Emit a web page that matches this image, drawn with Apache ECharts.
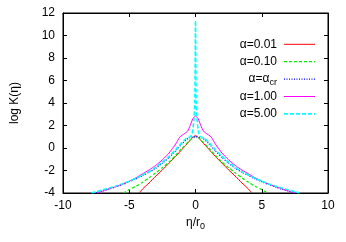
<!DOCTYPE html>
<html><head><meta charset="utf-8">
<script src="https://cdn.jsdelivr.net/npm/echarts@6/dist/echarts.min.js"></script>
<style>html,body{margin:0;padding:0;background:#fff}#c{width:346px;height:242px}</style>
</head><body><div id="c"></div>
<script>
// --- data ---
var xTicks = [-10, -5, 0, 5, 10];
var yTicks = [-4, -2, 0, 2, 4, 6, 8, 10, 12];

var etaRed = [-4.25,-4,-3.5,-3,-2.5,-2,-1.5,-1,-0.5,-0.25,0,0.25,0.5,1,1.5,2,2.5,3,3.5,4,4.25];
var valRed = [-4,-3.65,-3.1,-2.5,-1.95,-1.35,-0.75,-0.1,0.55,0.9,1.1,0.9,0.55,-0.1,-0.75,-1.35,-1.95,-2.5,-3.1,-3.65,-4];

var etaGreen = [-5.45,-5,-4.5,-4,-3.5,-3,-2.5,-2,-1.5,-1,-0.5,-0.25,0,0.25,0.5,1,1.5,2,2.5,3,3.5,4,4.5,5,5.45];
var valGreen = [-4,-3.7,-3.4,-3.05,-2.65,-2.2,-1.75,-1.25,-0.65,0.0,0.6,0.88,1.0,0.88,0.6,0.0,-0.65,-1.25,-1.75,-2.2,-2.65,-3.05,-3.4,-3.7,-4];

var etaBlue = [-7.5,-7,-6.5,-6,-5.5,-5,-4.5,-4,-3.5,-3,-2.5,-2,-1.5,-1,-0.5,0,0.5,1,1.5,2,2.5,3,3.5,4,4.5,5,5.5,6,6.5,7,7.5];
var valBlue = [-4,-3.82,-3.65,-3.45,-3.25,-3.0,-2.75,-2.45,-2.15,-1.8,-1.35,-0.85,-0.25,0.4,0.9,1.0,0.9,0.4,-0.25,-0.85,-1.35,-1.8,-2.15,-2.45,-2.75,-3.0,-3.25,-3.45,-3.65,-3.82,-4];

var etaMagenta = [-7.4,-7,-6.5,-6,-5.5,-5,-4.5,-4,-3.5,-3,-2.5,-2,-1.5,-1.2,-1,-0.8,-0.6,-0.4,-0.2,0,0.2,0.4,0.6,0.8,1,1.2,1.5,2,2.5,3,3.5,4,4.5,5,5.5,6,6.5,7,7.5];
var valMagenta = [-4,-3.82,-3.62,-3.42,-3.2,-2.95,-2.65,-2.3,-1.95,-1.55,-1.05,-0.45,0.35,0.95,1.15,1.3,1.5,2.0,2.6,2.85,2.6,2.0,1.5,1.3,1.15,0.95,0.35,-0.45,-1.05,-1.55,-1.95,-2.3,-2.65,-2.95,-3.2,-3.42,-3.62,-3.82,-4];

var etaCyan = [-7.85,-7.5,-7,-6.5,-6,-5.5,-5,-4.5,-4,-3.5,-3,-2.5,-2,-1.5,-1,-0.7,-0.4,-0.25,-0.12,-0.05,0,0.05,0.12,0.25,0.4,0.7,1,1.5,2,2.5,3,3.5,4,4.5,5,5.5,6,6.5,7,7.5,7.85];
var valCyan = [-4,-3.88,-3.72,-3.55,-3.38,-3.18,-2.95,-2.7,-2.4,-2.1,-1.72,-1.25,-0.75,-0.15,0.5,0.85,1.0,1.3,2.5,4.0,11.3,4.0,2.5,1.3,1.0,0.85,0.5,-0.15,-0.75,-1.25,-1.72,-2.1,-2.4,-2.7,-2.95,-3.18,-3.38,-3.55,-3.72,-3.88,-4];

var legendMain = ['α=0.01', 'α=0.10', 'α=α', 'α=1.00', 'α=5.00'];
var legendSub = ['', '', 'cr', '', ''];

function pairs(xs, ys) { return xs.map(function (x, i) { return [x, ys[i]]; }); }

var colors = ['#ff0000', '#00ee00', '#0000ff', '#ff00ff', '#00ffff'];
var dashes = [null, [3, 2], [1, 1.5], null, [4, 2]];
var widths = [1, 1.2, 1.2, 1, 1.6];
var datasets = [pairs(etaRed, valRed), pairs(etaGreen, valGreen), pairs(etaBlue, valBlue), pairs(etaMagenta, valMagenta), pairs(etaCyan, valCyan)];

var FONT = 'Liberation Sans';
var chart = echarts.init(document.getElementById('c'));

var series = datasets.map(function (d, i) {
  return {
    type: 'line', data: d, showSymbol: false, symbol: 'none', clip: true, smooth: 0.2,
    lineStyle: {color: colors[i], type: dashes[i] ? dashes[i].slice() : 'solid', width: widths[i]},
    z: i === 4 ? 5 : 3
  };
});

var graphics = [];
var legY0 = 44.3, legDy = 17.4;
for (var i = 0; i < legendMain.length; i++) {
  var y = legY0 + i * legDy;
  var txt = legendSub[i] ? ('{a|' + legendMain[i] + '}{s|' + legendSub[i] + '}') : ('{a|' + legendMain[i] + '}');
  graphics.push({
    type: 'text', x: 277, y: y,
    style: {
      text: txt, align: 'right', verticalAlign: 'middle',
      rich: {a: {fontSize: 12, fontFamily: FONT, fill: '#000'}, s: {fontSize: 9, fontFamily: FONT, fill: '#000', padding: [7, 0, 0, 0]}}
    }
  });
  var ls = {stroke: colors[i], lineWidth: widths[i]};
  if (dashes[i]) ls.lineDash = dashes[i].slice();
  graphics.push({type: 'line', shape: {x1: 284, y1: y, x2: 315, y2: y}, style: ls});
}

function axisParts() {
  return {
    axisLine: {show: true, onZero: false, lineStyle: {color: '#000', width: 1}},
    axisTick: {show: true, inside: true, length: 4, lineStyle: {color: '#000'}},
    splitLine: {show: false}
  };
}
function mk(base) { var p = axisParts(); for (var k in p) base[k] = p[k]; return base; }

chart.setOption({
  animation: false,
  grid: {left: 63, right: 18, top: 13, bottom: 49, show: true, borderColor: '#000', borderWidth: 1},
  xAxis: [
    mk({type: 'value', min: -10, max: 10, interval: 5,
      name: '{a|η/r}{s|0}', nameLocation: 'middle', nameGap: 20,
      nameTextStyle: {rich: {a: {fontSize: 12, fontFamily: FONT, color: '#000'}, s: {fontSize: 9, fontFamily: FONT, color: '#000', padding: [8, 0, 0, 0]}}},
      axisLabel: {fontSize: 12, fontFamily: FONT, color: '#000', margin: 7}}),
    mk({type: 'value', position: 'top', min: -10, max: 10, interval: 5, axisLabel: {show: false}})
  ],
  yAxis: [
    mk({type: 'value', min: -4, max: 12, interval: 2,
      name: 'log K(η)', nameLocation: 'middle', nameGap: 42, nameRotate: 90,
      nameTextStyle: {fontSize: 12, fontFamily: FONT, color: '#000'},
      axisLabel: {fontSize: 12, fontFamily: FONT, color: '#000', margin: 8}}),
    mk({type: 'value', position: 'right', min: -4, max: 12, interval: 2, axisLabel: {show: false}})
  ],
  series: series,
  graphic: {elements: graphics}
});
</script></body></html>
